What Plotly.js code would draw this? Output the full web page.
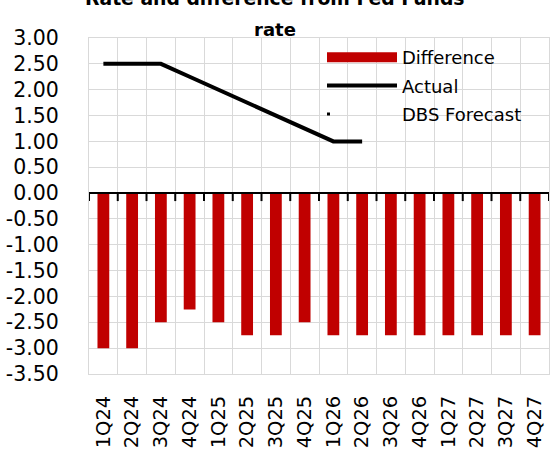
<!DOCTYPE html>
<html>
<head>
<meta charset="utf-8">
<script src="https://cdn.plot.ly/plotly-3.0.1.min.js"></script>
<style>html,body{margin:0;padding:0;background:#fff;}#chart{width:550px;height:453px;}</style>
</head>
<body>
<div id="chart"></div>
<script>
const quarters = ["1Q24","2Q24","3Q24","4Q24","1Q25","2Q25","3Q25","4Q25","1Q26","2Q26","3Q26","4Q26","1Q27","2Q27","3Q27","4Q27"];
const difference = [-3.00,-3.00,-2.50,-2.25,-2.50,-2.75,-2.75,-2.50,-2.75,-2.75,-2.75,-2.75,-2.75,-2.75,-2.75,-2.75];
const actual = [2.50,2.50,2.50,2.25,2.00,1.75,1.50,1.25,1.00,1.00,null,null,null,null,null,null];
const forecast = [null,null,null,null,null,null,null,null,null,null,null,null,null,null,null,null];
const yTickVals = [3.0,2.5,2.0,1.5,1.0,0.5,0.0,-0.5,-1.0,-1.5,-2.0,-2.5,-3.0,-3.5];
const yTickText = ["3.00","2.50","2.00","1.50","1.00","0.50","0.00","-0.50","-1.00","-1.50","-2.00","-2.50","-3.00","-3.50"];
const titleLine1 = "Rate and difference from Fed Funds";
const titleLine2 = "rate";

const FONT = "DejaVu Sans";
const RED = "#c00000";
const yMin = -3.5, yMax = 3.0;

const traces = [
  {type:"bar", name:"Difference", x:quarters, y:difference, marker:{color:RED}, legendgroup:"a", showlegend:false},
  // legend entry for the Difference bars (wide red swatch, as in the source chart)
  {type:"scatter", mode:"lines", name:"Difference", x:quarters, y:difference.map(() => null),
   line:{color:RED, width:13}, legendgroup:"a", showlegend:true},
  {type:"scatter", mode:"lines", name:"Actual", x:quarters, y:actual, line:{color:"#000000", width:4}, legendgroup:"b"},
  {type:"scatter", mode:"lines", name:"DBS Forecast", x:quarters, y:forecast,
   line:{color:"#000000", width:3, dash:"3px,200px"}, legendgroup:"c"}
];

// tick marks hanging below the zero line, one per category boundary
const zeroTicks = [];
for (let i = 0; i <= quarters.length; i++) {
  zeroTicks.push({type:"line", xref:"x", yref:"y", x0:i-0.5, x1:i-0.5,
    ysizemode:"pixel", yanchor:0, y0:0, y1:-8, line:{color:"#000000", width:2}, layer:"above"});
}
zeroTicks.push({type:"line", xref:"paper", yref:"y", x0:0, x1:1, y0:0, y1:0,
  line:{color:"#000000", width:2}, layer:"above"});

const layout = {
  width:550, height:453,
  margin:{l:89, r:1, t:38, b:79, autoexpand:false},
  paper_bgcolor:"#ffffff", plot_bgcolor:"#ffffff",
  font:{family:FONT, color:"#000000", size:20},
  showlegend:true,
  bargap:0.59,
  title:{text:titleLine2, font:{family:FONT, size:18, color:"#000000", weight:"bold"},
         x:0.5, xref:"container", xanchor:"center", y:1-30/453, yref:"container", yanchor:"middle"},
  annotations:[{text:"<b>"+titleLine1+"</b>", xref:"paper", yref:"paper", x:(275-89)/460, y:(374+1)/336,
     xanchor:"center", yanchor:"middle", showarrow:false, font:{family:FONT, size:18.8, color:"#000000"}}],
  legend:{x:(322-89)/460, y:(374-39)/336, xanchor:"left", yanchor:"top", bgcolor:"rgba(0,0,0,0)",
          font:{family:FONT, size:18, color:"#000000"}, traceorder:"grouped", tracegroupgap:2, itemwidth:70},
  shapes: zeroTicks,
  xaxis:{type:"category", categoryarray:quarters, categoryorder:"array", range:[-0.5,15.5],
         tickson:"boundaries", showgrid:true, gridcolor:"#d9d9d9", gridwidth:1,
         showline:true, linecolor:"#d9d9d9", linewidth:1, mirror:true,
         ticks:"", tickangle:-90, ticklabelstandoff:13, tickfont:{family:FONT, size:19.5, color:"#000000"},
         zeroline:false},
  yaxis:{range:[yMin,yMax], tickvals:yTickVals, ticktext:yTickText, showgrid:true, gridcolor:"#d9d9d9", gridwidth:1,
         showline:true, linecolor:"#d9d9d9", linewidth:1, mirror:true, zeroline:false,
         ticks:"", ticklabelstandoff:25, tickfont:{family:FONT, size:20.5, color:"#000000"}}
};

Plotly.newPlot("chart", traces, layout, {displayModeBar:false, staticPlot:true});
</script>
</body>
</html>
